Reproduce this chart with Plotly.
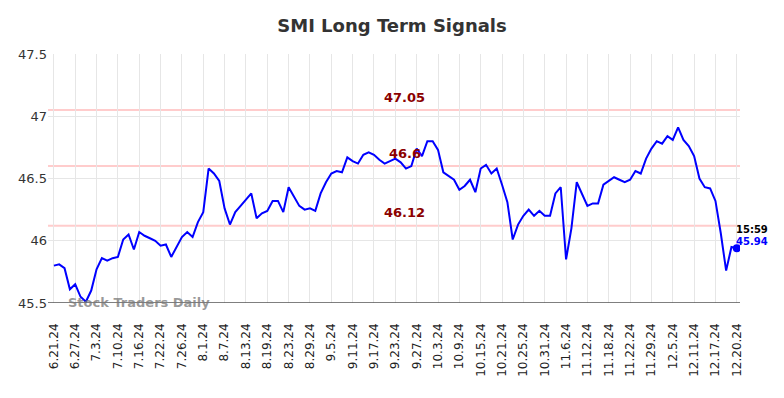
import plotly.graph_objects as go

# Closing values, one per trading session (index 0 = 6.21.24, last = 12.20.24 15:59)
values = [
    45.80, 45.81, 45.78, 45.61, 45.65, 45.55, 45.51, 45.60, 45.77, 45.86,
    45.84, 45.86, 45.87, 46.01, 46.05, 45.93, 46.07, 46.04, 46.02, 46.00,
    45.96, 45.97, 45.87, 45.95, 46.03, 46.07, 46.03, 46.15, 46.23, 46.58,
    46.54, 46.48, 46.26, 46.13, 46.23, 46.28, 46.33, 46.38, 46.18, 46.22,
    46.24, 46.32, 46.32, 46.23, 46.43, 46.35, 46.28, 46.25, 46.26, 46.24,
    46.38, 46.47, 46.54, 46.56, 46.55, 46.67, 46.64, 46.62, 46.69, 46.71,
    46.69, 46.65, 46.62, 46.64, 46.66, 46.63, 46.58, 46.60, 46.74, 46.68,
    46.80, 46.80, 46.73, 46.55, 46.52, 46.49, 46.41, 46.44, 46.49, 46.39,
    46.58, 46.61, 46.54, 46.58, 46.45, 46.31, 46.01, 46.13, 46.20, 46.25,
    46.20, 46.24, 46.20, 46.20, 46.38, 46.43, 45.85, 46.10, 46.47, 46.38,
    46.28, 46.30, 46.30, 46.45, 46.48, 46.51, 46.49, 46.47, 46.49, 46.56,
    46.54, 46.66, 46.74, 46.80, 46.78, 46.84, 46.81, 46.91, 46.81, 46.76,
    46.68, 46.50, 46.43, 46.42, 46.32, 46.06, 45.76, 45.95, 45.94,
]
x_idx = list(range(len(values)))

tick_labels = [
    "6.21.24", "6.27.24", "7.3.24", "7.10.24", "7.16.24", "7.22.24", "7.26.24",
    "8.1.24", "8.7.24", "8.13.24", "8.19.24", "8.23.24", "8.29.24", "9.5.24",
    "9.11.24", "9.17.24", "9.23.24", "9.27.24", "10.3.24", "10.9.24",
    "10.15.24", "10.21.24", "10.25.24", "10.31.24", "11.6.24", "11.12.24",
    "11.18.24", "11.22.24", "11.29.24", "12.5.24", "12.11.24", "12.17.24",
    "12.20.24",
]
tick_positions = [i * 4 for i in range(len(tick_labels))]

signal_levels = [47.05, 46.6, 46.12]
signal_texts = ["47.05", "46.6", "46.12"]
last_time = "15:59"
last_value = values[-1]

fig = go.Figure()

for lvl in signal_levels:
    fig.add_shape(type="line", xref="paper", x0=0, x1=1, y0=lvl, y1=lvl,
                  line=dict(color="#ffcccc", width=2), layer="below")

fig.add_trace(go.Scatter(x=x_idx, y=values, mode="lines",
                         line=dict(color="#0000ff", width=2), hoverinfo="skip"))
fig.add_trace(go.Scatter(x=[x_idx[-1]], y=[last_value], mode="markers",
                         marker=dict(color="#0000ff", size=8), hoverinfo="skip"))

for lvl, txt in zip(signal_levels, signal_texts):
    fig.add_annotation(x=65.8, y=lvl, text="<b>%s</b>" % txt, showarrow=False,
                       yshift=13, font=dict(color="#8b0000", size=13,
                                            family="DejaVu Sans"))

fig.add_annotation(x=x_idx[-1], y=last_value, text="<b>%s</b>" % last_time,
                   showarrow=False, xanchor="left", xshift=-3, yshift=19,
                   font=dict(color="#000000", size=10, family="DejaVu Sans"))
fig.add_annotation(x=x_idx[-1], y=last_value, text="<b>%.2f</b>" % last_value,
                   showarrow=False, xanchor="left", xshift=-3, yshift=7,
                   font=dict(color="#0000ff", size=10, family="DejaVu Sans"))

fig.add_annotation(xref="paper", yref="y", x=0.026, y=45.5, text="<b>Stock Traders Daily</b>",
                   showarrow=False, xanchor="left", yanchor="middle", yshift=1,
                   font=dict(color="rgba(120,120,120,0.75)", size=13, family="DejaVu Sans"))

# page body has an 8px margin, so the figure is sized to fill the rest of the window
fig.update_layout(
    width=776, height=390,
    margin=dict(l=40, r=44, t=46, b=95, autoexpand=False),
    paper_bgcolor="white", plot_bgcolor="white",
    showlegend=False,
    title=dict(text="<b>SMI Long Term Signals</b>", x=(392 - 8) / 776, xanchor="center",
               y=1 - 18 / 390, yref="container", yanchor="middle",
               font=dict(size=18, color="#333333", family="DejaVu Sans")),
    font=dict(family="DejaVu Sans", color="#333333"),
)
fig.update_xaxes(range=[-1.1, 128.6], tickmode="array", tickvals=tick_positions,
                 ticktext=tick_labels, tickangle=-90, showgrid=True,
                 gridcolor="#e6e6e6", gridwidth=1, zeroline=False, automargin=False,
                 ticklabelstandoff=17,
                 tickfont=dict(size=12, color="#222222"), ticks="", showline=False)
fig.update_yaxes(range=[45.5, 47.5], tickmode="array",
                 tickvals=[45.5, 46, 46.5, 47, 47.5],
                 ticktext=["45.5", "46", "46.5", "47", "47.5"], automargin=False,
                 showgrid=True, gridcolor="#e6e6e6", gridwidth=1, zeroline=False,
                 tickfont=dict(size=13, color="#333333"), ticks="", showline=False)
fig.add_shape(type="line", xref="paper", x0=0, x1=1, y0=45.5, y1=45.5,
              line=dict(color="#555555", width=1.5))

fig.write_html("out.html")
